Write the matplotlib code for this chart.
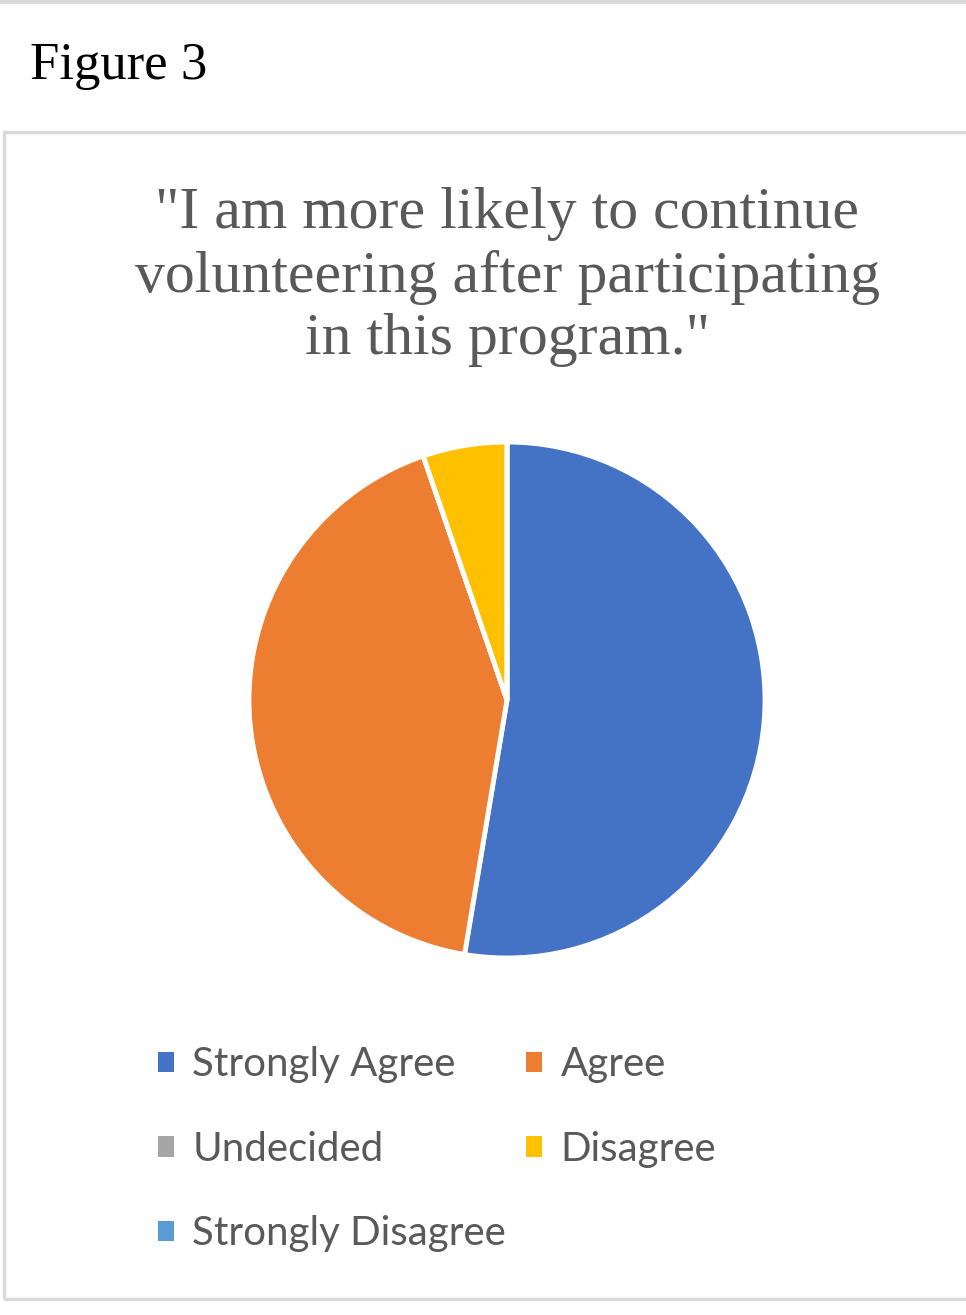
import matplotlib
matplotlib.use("Agg")
import matplotlib.pyplot as plt
from matplotlib.patches import Rectangle
from matplotlib.lines import Line2D

categories = ["Strongly Agree", "Agree", "Undecided", "Disagree", "Strongly Disagree"]
values = [10, 8, 0, 1, 0]
colors = ["#4472C4", "#ED7D31", "#A5A5A5", "#FFC000", "#5B9BD5"]
title = "\"I am more likely to continue\nvolunteering after participating\nin this program.\""
fig_label = "Figure 3"

W, H = 966, 1315
fig = plt.figure(figsize=(W / 100, H / 100), dpi=100)
fig.patch.set_facecolor("white")

# frame lines
fig.add_artist(Line2D([0, 1], [1 - 1.5 / H, 1 - 1.5 / H], transform=fig.transFigure,
                      color="#d9d9d9", lw=3))
fig.add_artist(Rectangle((3.5 / W, (H - 1298.5) / H), (W + 10) / W, (1298.5 - 131.5) / H,
                         transform=fig.transFigure, fill=False, edgecolor="#d9d9d9", lw=2.5))

fig.text(30 / W, 1 - 66 / H, fig_label, family="Liberation Serif", fontsize=38,
         color="black", ha="left", va="center")

fig.text(507 / W, 1 - 277 / H, title, family="Liberation Serif", fontsize=43,
         color="#595959", ha="center", va="center", linespacing=1.2)

cx, cy, r = 507, 700, 258
ax = fig.add_axes([(cx - r) / W, (H - cy - r) / H, 2 * r / W, 2 * r / H])
wedges, _ = ax.pie(values, colors=colors, startangle=90, counterclock=False, radius=1,
                   wedgeprops=dict(edgecolor="white", linewidth=3.5))
ax.set_xlim(-1.0, 1.0)
ax.set_ylim(-1.0, 1.0)
ax.axis("off")

order = [0, 2, 4, 1, 3]
handles = [Rectangle((0, 0), 1, 1, facecolor=colors[i], edgecolor="none") for i in order]
labels = [categories[i] for i in order]
leg = fig.legend(handles, labels, ncol=2, loc="upper left",
                 bbox_to_anchor=(122 / W, 1 - 1010 / H), frameon=False,
                 prop=dict(family="Lato", size=29), labelcolor="#595959",
                 handlelength=0.4, handleheight=0.4, handletextpad=0.45,
                 columnspacing=0.5, labelspacing=1.18)

fig.savefig("out.png", dpi=100, facecolor="white")
